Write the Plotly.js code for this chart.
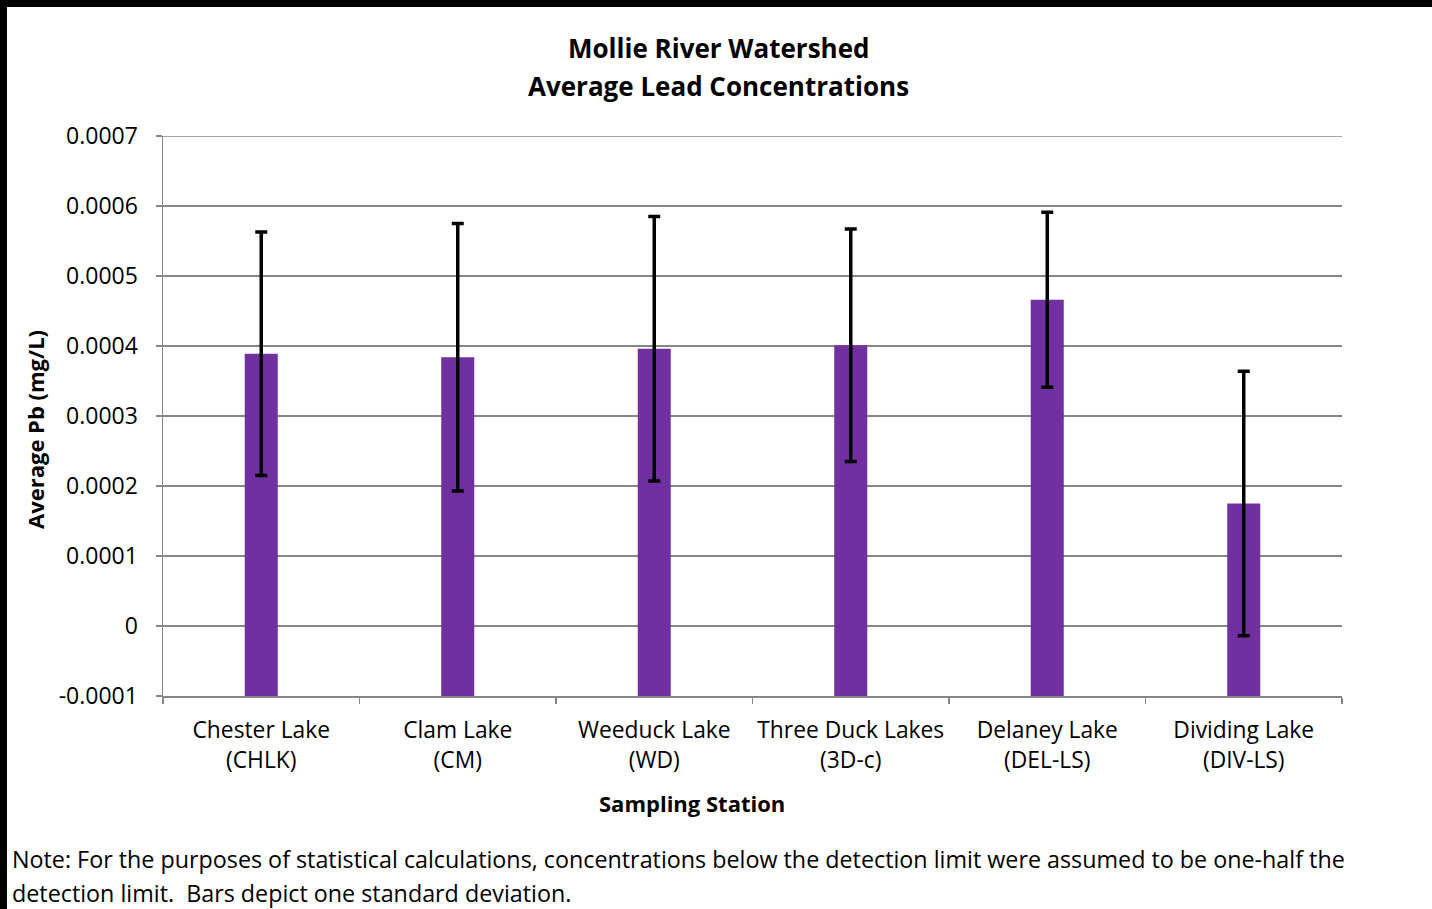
<!DOCTYPE html>
<html>
<head>
<meta charset="utf-8">
<script src="https://cdn.plot.ly/plotly-3.0.1.min.js"></script>
<style>html,body{margin:0;padding:0;background:#fff;}#chart{width:1432px;height:909px;}</style>
</head>
<body>
<div id="chart"></div>
<script>
const stations = ["Chester Lake<br>(CHLK)", "Clam Lake<br>(CM)", "Weeduck Lake<br>(WD)", "Three Duck Lakes<br>(3D-c)", "Delaney Lake<br>(DEL-LS)", "Dividing Lake<br>(DIV-LS)"];
const avgPb = [0.000389, 0.000384, 0.000396, 0.000401, 0.000466, 0.000175];
const stdDev = [0.000174, 0.000191, 0.000189, 0.000166, 0.000125, 0.000189];
const yTickVals = [-0.0001, 0, 0.0001, 0.0002, 0.0003, 0.0004, 0.0005, 0.0006, 0.0007];
const yTickText = ["-0.0001", "0", "0.0001", "0.0002", "0.0003", "0.0004", "0.0005", "0.0006", "0.0007"];
const baseValue = -0.0001;
const yMax = 0.0007;

const W = 1432, H = 909;
const L = 163, R = 1342, T = 136, B = 696;
const pw = R - L, ph = B - T;
const px = x => (x - L) / pw;
const py = y => (B - y) / ph;

const FONT = "Open Sans, DejaVu Sans, sans-serif";

const trace = {
  type: "bar",
  x: stations,
  y: avgPb.map(v => v - baseValue),
  base: baseValue,
  marker: {color: "#7030A0"},
  error_y: {type: "data", array: stdDev, visible: true, color: "#000000", thickness: 3.5, width: 6},
  hoverinfo: "skip"
};

const layout = {
  width: W, height: H,
  margin: {l: L, r: W - R, t: T, b: H - B, pad: 0},
  paper_bgcolor: "#ffffff",
  plot_bgcolor: "#ffffff",
  showlegend: false,
  bargap: 0.832,
  font: {family: FONT, size: 23, color: "#000000"},
  xaxis: {
    type: "category",
    showgrid: false,
    showline: true, linecolor: "#868686", linewidth: 1.5,
    ticks: "outside", tickson: "boundaries", ticklen: 6, tickcolor: "#868686", tickwidth: 1.5,
    tickfont: {family: FONT, size: 22.8, color: "#000"},
    ticklabelstandoff: 13,
    fixedrange: true
  },
  yaxis: {
    range: [baseValue, yMax],
    tickvals: yTickVals, ticktext: yTickText,
    showgrid: true, gridcolor: "#868686", gridwidth: 1.5,
    zeroline: false,
    showline: true, linecolor: "#868686", linewidth: 1.5,
    ticks: "outside", ticklen: 6, tickcolor: "#868686", tickwidth: 1.5,
    tickfont: {family: FONT, size: 23, color: "#000"},
    ticklabelstandoff: 13,
    fixedrange: true
  },
  annotations: [
    {text: "<b>Mollie River Watershed</b>", xref: "paper", yref: "paper", x: px(718), y: py(48), xanchor: "center", yanchor: "middle", showarrow: false, font: {family: FONT, size: 26, color: "#000"}},
    {text: "<b>Average Lead Concentrations</b>", xref: "paper", yref: "paper", x: px(718), y: py(86), xanchor: "center", yanchor: "middle", showarrow: false, font: {family: FONT, size: 26, color: "#000"}},
    {text: "<b>Average Pb (mg/L)</b>", xref: "paper", yref: "paper", x: px(35), y: py(430), xanchor: "center", yanchor: "middle", textangle: -90, showarrow: false, font: {family: FONT, size: 22, color: "#000"}},
    {text: "<b>Sampling Station</b>", xref: "paper", yref: "paper", x: px(692), y: py(803), xanchor: "center", yanchor: "middle", showarrow: false, font: {family: FONT, size: 22, color: "#000"}},
    {text: "Note: For the purposes of statistical calculations, concentrations below the detection limit were assumed to be one-half the", xref: "paper", yref: "paper", x: px(10), y: py(859), xanchor: "left", yanchor: "middle", showarrow: false, font: {family: FONT, size: 23.3, color: "#000"}},
    {text: "detection limit.  Bars depict one standard deviation.", xref: "paper", yref: "paper", x: px(10), y: py(893), xanchor: "left", yanchor: "middle", showarrow: false, font: {family: FONT, size: 23.3, color: "#000"}}
  ],
  shapes: [
    {type: "line", xref: "paper", yref: "y", x0: 0, x1: 1, y0: yMax, y1: yMax, line: {color: "#868686", width: 1.5}, layer: "below"},
    {type: "rect", xref: "paper", yref: "paper", x0: px(0), x1: px(W), y0: py(0), y1: py(7), fillcolor: "#000", line: {width: 0}, layer: "above"},
    {type: "rect", xref: "paper", yref: "paper", x0: px(0), x1: px(7), y0: py(0), y1: py(H), fillcolor: "#000", line: {width: 0}, layer: "above"}
  ]
};

Plotly.newPlot("chart", [trace], layout, {staticPlot: true, displayModeBar: false});
</script>
</body>
</html>
